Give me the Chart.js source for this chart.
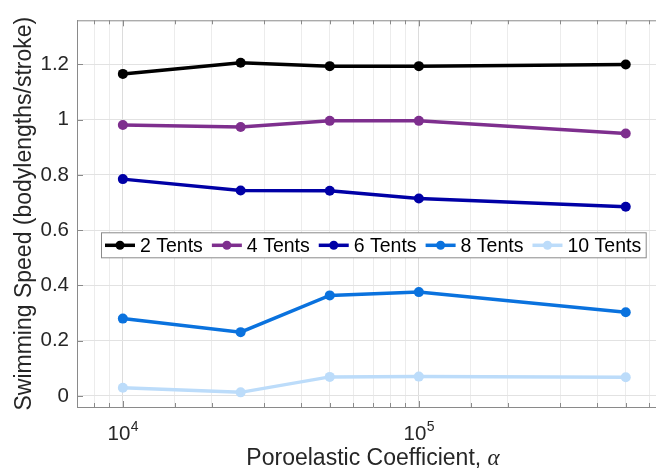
<!DOCTYPE html>
<html>
<head>
<meta charset="utf-8">
<script src="https://cdn.jsdelivr.net/npm/chart.js@4/dist/chart.umd.min.js"></script>
<style>
  html, body { margin: 0; padding: 0; background: #ffffff; overflow: hidden; width: 656px; height: 468px; }
  #wrap { width: 656px; height: 468px; overflow: hidden; position: relative; }
  canvas { display: block; }
</style>
</head>
<body>
<div id="wrap"><canvas id="c" width="700" height="468"></canvas></div>
<script>
// ---- Data ----
const xValues = [1e4, 2.5e4, 5e4, 1e5, 5e5];
const seriesNames = ['2 Tents', '4 Tents', '6 Tents', '8 Tents', '10 Tents'];
const tents2  = [1.166, 1.206, 1.194, 1.194, 1.200];
const tents4  = [0.981, 0.974, 0.996, 0.996, 0.950];
const tents6  = [0.785, 0.744, 0.743, 0.715, 0.685];
const tents8  = [0.280, 0.231, 0.364, 0.376, 0.303];
const tents10 = [0.030, 0.013, 0.069, 0.070, 0.068];
const yTickValues = [0, 0.2, 0.4, 0.6, 0.8, 1.0, 1.2];
const xTickValues = [1e4, 1e5];
const xTickBase = '10';
const xTickExponents = ['4', '5'];
const xTitle = 'Poroelastic Coefficient, ';
const xTitleSymbol = 'α';
const yTitle = 'Swimming Speed (bodylengths/stroke)';

const seriesValues = [tents2, tents4, tents6, tents8, tents10];
const seriesColors = ['#000000', '#7E2F8E', '#0000A6', '#0A72DE', '#BCDCFA'];

const FONT = '"Liberation Sans", Arial, Helvetica, sans-serif';
const TEXT = '#262626';
const AXIS = '#8a8a8a';

function isPow10(v) {
  const l = Math.log10(v);
  return Math.abs(l - Math.round(l)) < 1e-9;
}

const datasets = seriesNames.map((name, i) => ({
  label: name,
  data: xValues.map((x, j) => ({ x: x, y: seriesValues[i][j] })),
  borderColor: seriesColors[i],
  backgroundColor: seriesColors[i],
  pointBackgroundColor: seriesColors[i],
  pointBorderWidth: 0,
  pointRadius: 5,
  borderWidth: 3.5,
  tension: 0,
  fill: false
}));

// Plugin: inward ticks, top box edge, x tick labels, axis titles, legend
const decorPlugin = {
  id: 'decor',
  afterDraw(chart) {
    const ctx = chart.ctx;
    const a = chart.chartArea;
    const xs = chart.scales.x, ys = chart.scales.y;
    ctx.save();
    // top border
    ctx.strokeStyle = AXIS;
    ctx.lineWidth = 1;
    ctx.beginPath();
    ctx.moveTo(a.left, a.top + 0.5);
    ctx.lineTo(a.right, a.top + 0.5);
    ctx.stroke();
    // x ticks (inward, bottom and top)
    xs.ticks.forEach(t => {
      const px = Math.round(xs.getPixelForValue(t.value)) + 0.5;
      const len = isPow10(t.value) ? 6 : 4;
      ctx.beginPath();
      ctx.moveTo(px, a.bottom);
      ctx.lineTo(px, a.bottom - len);
      ctx.moveTo(px, a.top);
      ctx.lineTo(px, a.top + len);
      ctx.stroke();
    });
    // y ticks (inward)
    yTickValues.forEach(v => {
      const py = Math.round(ys.getPixelForValue(v)) + 0.5;
      ctx.beginPath();
      ctx.moveTo(a.left, py);
      ctx.lineTo(a.left + 6, py);
      ctx.moveTo(a.right, py);
      ctx.lineTo(a.right - 6, py);
      ctx.stroke();
    });

    // x tick labels: 10 with superscript exponent
    ctx.fillStyle = TEXT;
    ctx.textBaseline = 'alphabetic';
    ctx.textAlign = 'left';
    xTickValues.forEach((v, i) => {
      const px = xs.getPixelForValue(v);
      ctx.font = '20.5px ' + FONT;
      const wb = ctx.measureText(xTickBase).width;
      ctx.font = '14px ' + FONT;
      const we = ctx.measureText(xTickExponents[i]).width;
      const sx = px - (wb + we) / 2;
      ctx.font = '20.5px ' + FONT;
      ctx.fillText(xTickBase, sx, 440);
      ctx.font = '14px ' + FONT;
      ctx.fillText(xTickExponents[i], sx + wb + 0.5, 431);
    });

    // y title
    ctx.fillStyle = TEXT;
    ctx.font = '23px ' + FONT;
    ctx.save();
    ctx.translate(31, (a.top + a.bottom) / 2);
    ctx.rotate(-Math.PI / 2);
    ctx.textAlign = 'center';
    ctx.textBaseline = 'alphabetic';
    ctx.fillText(yTitle, 0, 0);
    ctx.restore();

    // x title
    ctx.font = '23px ' + FONT;
    const w1 = ctx.measureText(xTitle).width;
    ctx.font = 'italic 23px "Liberation Serif", "DejaVu Serif", serif';
    const w2 = ctx.measureText(xTitleSymbol).width;
    const cx = (a.left + a.right) / 2;
    let sx = cx - (w1 + w2) / 2;
    ctx.textAlign = 'left';
    ctx.textBaseline = 'alphabetic';
    ctx.font = '23px ' + FONT;
    ctx.fillText(xTitle, sx, 465);
    ctx.font = 'italic 23px "Liberation Serif", "DejaVu Serif", serif';
    ctx.fillText(xTitleSymbol, sx + w1, 465);

    // legend
    ctx.font = '19.5px ' + FONT;
    const padL = 3.5, padR = 5, lineLen = 30, lineGap = 5, itemGap = 9;
    const widths = chart.data.datasets.map(d => ctx.measureText(d.label).width);
    let total = padL + padR;
    widths.forEach((w, i) => { total += lineLen + lineGap + w + (i < widths.length - 1 ? itemGap : 0); });
    const bx = a.left + 24.5, by = a.top + 212.5, bh = 25;
    ctx.fillStyle = '#ffffff';
    ctx.fillRect(bx, by, total, bh);
    ctx.strokeStyle = '#8a8a8a';
    ctx.lineWidth = 1;
    ctx.strokeRect(bx, by, total, bh);
    const cy = by + bh / 2;
    let x = bx + padL;
    chart.data.datasets.forEach((d, i) => {
      ctx.strokeStyle = d.borderColor;
      ctx.lineWidth = 3.5;
      ctx.beginPath();
      ctx.moveTo(x, cy);
      ctx.lineTo(x + lineLen, cy);
      ctx.stroke();
      ctx.fillStyle = d.borderColor;
      ctx.beginPath();
      ctx.arc(x + lineLen / 2, cy, 4.5, 0, Math.PI * 2);
      ctx.fill();
      x += lineLen + lineGap;
      ctx.fillStyle = '#000000';
      ctx.textBaseline = 'middle';
      ctx.fillText(d.label, x, cy + 1);
      x += widths[i] + itemGap;
    });
    ctx.restore();
  }
};

new Chart(document.getElementById('c'), {
  type: 'line',
  data: { datasets: datasets },
  plugins: [decorPlugin],
  options: {
    responsive: false,
    devicePixelRatio: 1,
    animation: false,
    layout: { padding: { left: 0, top: 20, right: 31, bottom: 0 } },
    plugins: { legend: { display: false }, tooltip: { enabled: false } },
    scales: {
      x: {
        type: 'logarithmic',
        min: 7000,
        max: 700000,
        afterFit: s => { s.height = 61; },
        border: { display: true, color: AXIS, width: 1 },
        grid: {
          drawTicks: false,
          color: c => (c.tick && isPow10(c.tick.value)) ? '#dcdcdc' : '#ececec',
          lineWidth: 1
        },
        ticks: {
          display: false,
          autoSkip: false
        }
      },
      y: {
        type: 'linear',
        min: -0.04,
        max: 1.36,
        afterFit: s => { s.width = 77; },
        afterBuildTicks: s => { s.ticks = yTickValues.map(v => ({ value: v })); },
        border: { display: true, color: AXIS, width: 1 },
        grid: { drawTicks: false, color: '#e2e2e2', lineWidth: 1 },
        ticks: {
          padding: 8,
          color: TEXT,
          font: { family: FONT, size: 20.5 },
          callback: v => String(Math.round(v * 10) / 10)
        }
      }
    }
  }
});
</script>
</body>
</html>
